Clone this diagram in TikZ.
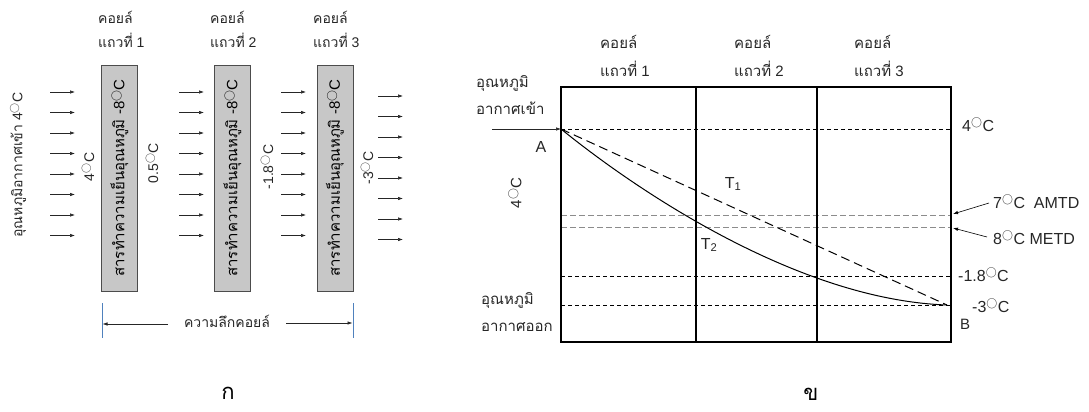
\documentclass[tikz,border=0pt]{standalone}
\usepackage{fontspec}
\setmainfont{Liberation Sans}
\newfontfamily\thai[Script=Thai]{Loma}
\usetikzlibrary{arrows.meta,positioning,calc}
\definecolor{dimblue}{RGB}{79,129,189}
\newcommand{\degc}{\ensuremath{^{\bigcirc}}C}
\tikzset{
  coilbox/.style={draw=black!70,fill=black!22,line width=0.8pt,rotate=90,
    minimum width=226pt,minimum height=36pt,inner sep=0pt,
    font=\fontsize{15}{17}\selectfont},
  flowarrow/.style={-{Latex[length=5pt,width=3.5pt]},line width=0.6pt,draw=black!85},
  hdrsmall/.style={align=left,anchor=north west,inner sep=0pt,text=black!85,
    font=\fontsize{14}{24}\selectfont},
  hdrbig/.style={align=left,anchor=north west,inner sep=0pt,text=black!85,
    font=\fontsize{15}{28}\selectfont},
  templabel/.style={rotate=90,inner sep=0pt,text=black!85,font=\fontsize{14}{16}\selectfont},
  sidelabel/.style={anchor=west,inner sep=0pt,text=black!85,font=\fontsize{16}{18}\selectfont},
  dimline/.style={draw=dimblue,line width=0.6pt},
  frameline/.style={line width=1.6pt},
  levelline/.style={dashed,dash pattern=on 4pt off 3pt,line width=0.6pt},
  designline/.style={dash pattern=on 6pt off 3pt,line width=1pt,draw=black!45},
  pointarrow/.style={-{Latex[length=5pt,width=3.5pt]},line width=0.6pt},
  partlabel/.style={font=\thai\fontsize{22}{24}\selectfont}
}

\begin{document}
\begin{tikzpicture}[x=1pt,y=-1pt]
  \useasboundingbox (0,0) rectangle (1089,412);
  % left: coil rows
  \node[coilbox] (coil1) at (119.5,178) {{\thai สารทำความเย็นอุณหภูมิ} -8\degc};
  \node[coilbox] (coil2) at (232.5,178) {{\thai สารทำความเย็นอุณหภูมิ} -8\degc};
  \node[coilbox] (coil3) at (335,178) {{\thai สารทำความเย็นอุณหภูมิ} -8\degc};
  \node[hdrsmall] (hdr1) at (98,11) {{\thai คอยล์}\\{\thai แถวที่} 1};
  \node[hdrsmall] (hdr2) at (210,11) {{\thai คอยล์}\\{\thai แถวที่} 2};
  \node[hdrsmall] (hdr3) at (313,11) {{\thai คอยล์}\\{\thai แถวที่} 3};
  \foreach \x/\ys in {50/92,179/92,281/92,378/96}
    \foreach \k in {0,...,7}
      \draw[flowarrow] (\x,{\ys+20.5*\k}) -- ++(25,0);
  \node[templabel] (airin) at (18,165) {{\thai อุณหภูมิอากาศเข้า} 4\degc};
  \node[templabel] (tin) at (88,167) {4\degc};
  \node[templabel] (tone) at (152,163) {0.5\degc};
  \node[templabel] (ttwo) at (267,167) {-1.8\degc};
  \node[templabel] (tout) at (367,168) {-3\degc};
  \draw[dimline] (102,303) coordinate (dimtop) -- (102,338);
  \draw[dimline] (353,303) -- (353,338);
  \node[text=black!85,font=\thai\fontsize{14}{16}\selectfont] (depth) at (227,321) {ความลึกคอยล์};
  \coordinate (depthL) at (102.5,324);
  \coordinate (depthR) at (352.5,323);
  \draw[flowarrow] (168,324) -- (depthL);
  \draw[flowarrow] (286,323) -- (depthR);
  \node[partlabel] (parta) at (228,393) {ก};
  % right: temperature profile
  \coordinate (A) at (561,129);
  \coordinate (B) at (947,305);
  \draw[levelline] (561,129) -- (951,129);
  \draw[designline] (561,215) -- (951,215);
  \draw[designline] (561,227) -- (951,227);
  \draw[levelline] (561,276) -- (951,276);
  \draw[levelline] (561,305) -- (951,305);
  \draw[frameline] (561,87) rectangle (951,342);
  \draw[frameline] (696,87) -- (696,342);
  \draw[frameline] (817,87) -- (817,342);
  \draw[line width=1pt,dash pattern=on 9pt off 5pt] (A) -- (B);
  \draw[line width=1pt] (A) .. controls (640,193) and (800,300) .. (B);
  \node[hdrbig] (col1) at (600,35) {{\thai คอยล์}\\{\thai แถวที่} 1};
  \node[hdrbig] (col2) at (734,35) {{\thai คอยล์}\\{\thai แถวที่} 2};
  \node[hdrbig] (col3) at (854,35) {{\thai คอยล์}\\{\thai แถวที่} 3};
  \node[hdrbig,font=\thai\fontsize{15}{27}\selectfont] (inlab) at (476,75) {อุณหภูมิ\\อากาศเข้า};
  \coordinate (inlet) at (492,129);
  \draw[flowarrow] (inlet) -- (A);
  \node[sidelabel,anchor=center] (alab) at (541,147) {A};
  \node[templabel,font=\fontsize{15}{17}\selectfont] (ain) at (515,193) {4\degc};
  \node[hdrbig,font=\thai\fontsize{15}{27}\selectfont] (outlab) at (481,292) {อุณหภูมิ\\อากาศออก};
  \node[sidelabel] (lvlin) at (962,125) {4\degc};
  \node[sidelabel] (amtd) at (993,202) {7\degc\ \ AMTD};
  \node[sidelabel] (metd) at (993,238) {8\degc\ METD};
  \node[sidelabel] (lvlmid) at (958,275) {-1.8\degc};
  \node[sidelabel] (lvlout) at (972,306) {-3\degc};
  \node[sidelabel,font=\fontsize{15}{17}\selectfont] (blab) at (960,324) {B};
  \draw[pointarrow] (989,203) -- (953,214);
  \draw[pointarrow] (987,237) -- (953,228);
  \node[sidelabel,anchor=center] (tonelab) at (733,184) {T\textsubscript{1}};
  \node[sidelabel,anchor=center] (ttwolab) at (709,245) {T\textsubscript{2}};
  \node[partlabel] (partb) at (811,394) {ข};
\end{tikzpicture}
\end{document}
